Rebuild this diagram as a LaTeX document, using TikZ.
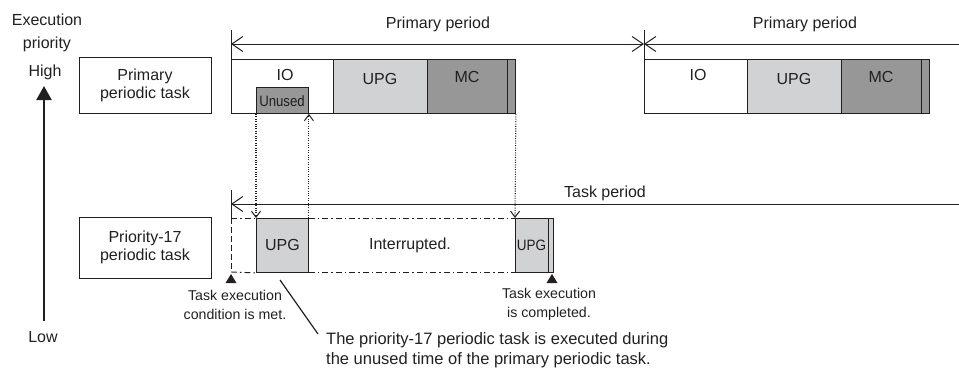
\documentclass[tikz,border=0pt]{standalone}
\usepackage{fontspec}
\setmainfont{Liberation Sans}
\usetikzlibrary{arrows.meta,calc}
\definecolor{ink}{HTML}{231F20}
\definecolor{lightg}{HTML}{D1D2D4}
\definecolor{darkg}{HTML}{979797}
\tikzset{
  big/.style={font=\fontsize{16}{18}\selectfont, text=ink, inner sep=0pt},
  small/.style={font=\fontsize{14.2}{19}\selectfont, text=ink, inner sep=0pt},
  seg/.style={draw=ink, line width=0.9pt, inner sep=0pt, anchor=north west, minimum height=54pt},
  tbox/.style={draw=ink, line width=0.9pt, inner sep=0pt, align=center, font=\fontsize{16}{18}\selectfont, text=ink},
  barb/.tip={Straight Barb[length=11pt,width=15pt,line width=1pt]},
  vtip/.tip={Straight Barb[length=6pt,width=9pt,line width=1pt]},
  period/.style={draw=ink, line width=1pt},
  dots/.style={draw=ink, line width=1.1pt, dash pattern=on 1pt off 1.4pt},
  dashdot/.style={ink, line width=0.9pt, dash pattern=on 6pt off 3pt on 1.5pt off 3pt},
}
\begin{document}
\begin{tikzpicture}[x=1pt,y=-1pt]
\useasboundingbox (0,0) rectangle (959,368);

% priority axis
\node[big] (exe) at (47,20) {Execution};
\node[big] (prio) at (47,44) {priority};
\node[big] (high) at (45,72) {High};
\node[big] (low) at (43,337) {Low};
\coordinate (atop) at (44,86);
\coordinate (abot) at (44,321);
\draw[ink, line width=2.2pt, -{Triangle[length=14pt,width=15pt]}] (abot) -- (atop);

% task name boxes
\node[tbox, minimum width=132pt, minimum height=56pt] (ppt) at (145,85) {Primary\\periodic task};
\node[tbox, minimum width=132pt, minimum height=61pt] (p17) at (145,247.5) {Priority-17\\periodic task};

% primary period row 1
\node[seg, minimum width=102pt, fill=white] (io1) at (231,59) {};
\node[seg, minimum width=94pt, fill=lightg] (upg1) at (333,59) {};
\node[seg, minimum width=80pt, fill=darkg] (mc1) at (427,59) {};
\node[seg, minimum width=8pt, fill=darkg] (st1) at (507,59) {};
\node[big] (io1t) at (285,75) {IO};
\node[big] (upg1t) at (380,79) {UPG};
\node[big] (mc1t) at (467,77) {MC};
\node[draw=ink, line width=0.9pt, fill=darkg, anchor=north west, minimum width=52pt, minimum height=26pt, inner sep=0pt] (unused) at (256,87) {};
\node[text=ink, inner sep=0pt, font=\fontsize{15}{15}\selectfont, xscale=0.88] (unusedt) at (282,101) {Unused};

% primary period row 2
\node[seg, minimum width=103pt, fill=white] (io2) at (644,59) {};
\node[seg, minimum width=94pt, fill=lightg] (upg2) at (747,59) {};
\node[seg, minimum width=80pt, fill=darkg] (mc2) at (841,59) {};
\node[seg, minimum width=8pt, fill=darkg] (st2) at (921,59) {};
\node[big] (io2t) at (698,75) {IO};
\node[big] (upg2t) at (794,79) {UPG};
\node[big] (mc2t) at (881,77) {MC};

% primary period arrows
\coordinate (t1top) at (231,30);
\coordinate (t2top) at (644,30);
\coordinate (pl1) at (231,44);
\coordinate (pl2) at (644,44);
\coordinate (pl3) at (959,44);
\draw[period] (t1top) -- (io1.north west);
\draw[period] (t2top) -- (io2.north west);
\draw[period, {barb}-{barb}] (pl1) -- (pl2);
\draw[period, {barb}-] (pl2) -- (pl3);
\node[big] (pp1) at (438,24) {Primary period};
\node[big] (pp2) at (805,24) {Primary period};

% task period
\coordinate (tptop) at (231,190);
\coordinate (tpbot) at (231,218);
\coordinate (tpl) at (231,204);
\coordinate (tpr) at (959,204);
\draw[period] (tptop) -- (tpbot);
\draw[period, {barb}-] (tpl) -- (tpr);
\node[big] (tpt) at (605,193) {Task period};

% priority-17 row
\node[seg, minimum width=52pt, fill=lightg, font=\fontsize{16}{18}\selectfont, text=ink] (upgA) at (256,218) {UPG};
\node[seg, minimum width=33pt, fill=lightg] (upgB) at (515,218) {};
\node[seg, minimum width=5pt, fill=lightg] (stB) at (548,218) {};
\node[text=ink, inner sep=0pt, font=\fontsize{15}{15}\selectfont, xscale=0.9] (upgBt) at (531.5,245) {UPG};
\node[big] (intr) at (410,245) {Interrupted.};
\coordinate (rtl) at (231,218);
\coordinate (rbl) at (231,272);
\draw[ink, line width=0.9pt, dash pattern=on 6pt off 3pt] (rtl) -- (rbl);
\draw[dashdot] (rtl) -- (upgA.north west);
\draw[dashdot] (rbl) -- (upgA.south west);
\draw[dashdot] (upgA.north east) -- (upgB.north west);
\draw[dashdot] (upgA.south east) -- (upgB.south west);

% dotted transfer arrows
\draw[dots, -{vtip}] (unused.south west) -- (upgA.north west);
\draw[dots, -{vtip}] (upgA.north east) -- (unused.south east);
\draw[dots, -{vtip}] (st1.south east) -- (upgB.north west);

% triangles
\coordinate (tr1) at (231,274);
\coordinate (tr2) at (552,274);
\fill[ink] (tr1) -- ++(5.5,9) -- ++(-11,0) -- cycle;
\fill[ink] (tr2) -- ++(5.5,9) -- ++(-11,0) -- cycle;
\node[small, align=center] (cond) at (235,304.5) {Task execution\\condition is met.};
\node[small, align=center] (done) at (549,304.5) {Task execution\\is completed.};

% note
\node[text=ink, inner sep=0pt, font=\fontsize{16.5}{20}\selectfont, align=left, anchor=north west] (note) at (326,332) {The priority-17 periodic task is executed during\\the unused time of the primary periodic task.};
\coordinate (dstart) at (280,280);
\coordinate (dend) at (318,334);
\draw[ink, line width=1.2pt] (dstart) -- (dend);
\end{tikzpicture}
\end{document}
